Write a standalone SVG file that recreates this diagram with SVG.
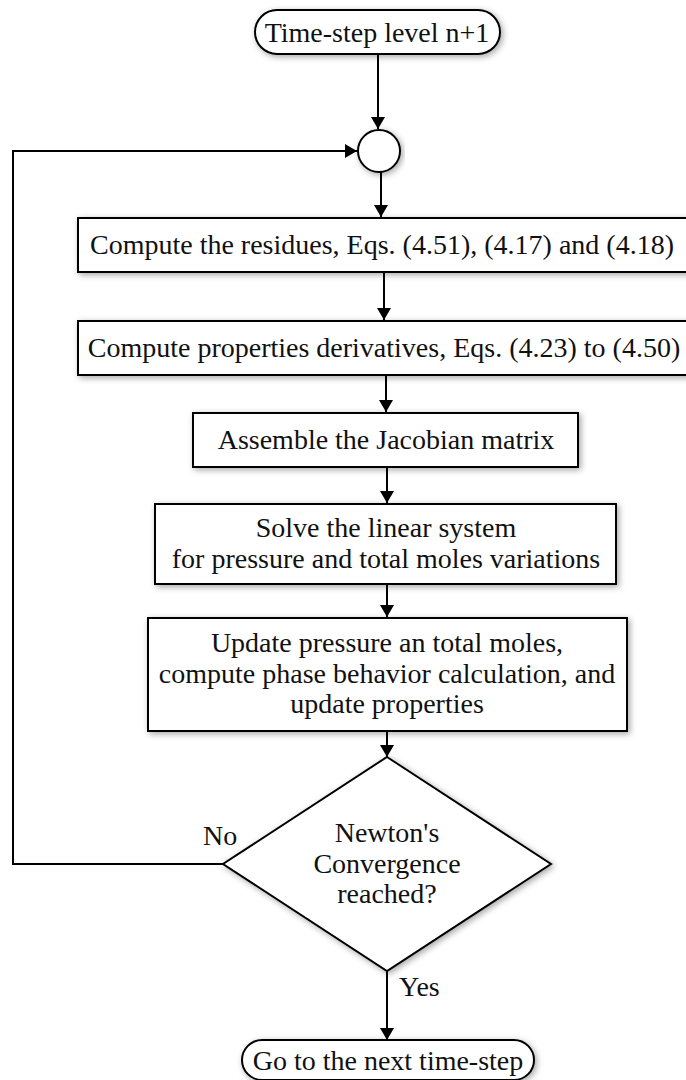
<svg xmlns="http://www.w3.org/2000/svg" width="686" height="1080" viewBox="0 0 686 1080">
<defs>
<filter id="sh" x="-10%" y="-30%" width="120%" height="160%">
<feDropShadow dx="2" dy="2" stdDeviation="3" flood-color="#000" flood-opacity="0.35"/>
</filter>
<marker id="arr" viewBox="0 0 12 14" refX="12" refY="7" markerWidth="12" markerHeight="14" markerUnits="userSpaceOnUse" orient="auto">
<path d="M0,0 L12,7 L0,14 Z" fill="#000"/>
</marker>
</defs>
<style>
.box{fill:#fff;stroke:#000;stroke-width:2;filter:url(#sh)}
.t{font-family:"Liberation Serif","Times New Roman",serif;font-size:28px;fill:#111;text-anchor:middle}
.l{font-family:"Liberation Serif","Times New Roman",serif;font-size:28px;fill:#111}
.c{fill:none;stroke:#000;stroke-width:2;marker-end:url(#arr)}
.p{fill:none;stroke:#000;stroke-width:2}
</style>
<rect width="686" height="1080" fill="#fff"/>
<g id="connectors">
<line class="c" x1="378" y1="54" x2="378" y2="129"/>
<line class="c" x1="381" y1="172" x2="381" y2="217"/>
<line class="c" x1="384" y1="272" x2="384" y2="320"/>
<line class="c" x1="386" y1="375" x2="386" y2="412"/>
<line class="c" x1="387" y1="467" x2="387" y2="503"/>
<line class="c" x1="387" y1="584" x2="387" y2="617"/>
<line class="c" x1="387" y1="731" x2="387" y2="757"/>
<polyline class="c" points="223,864 13,864 13,151 357,151"/>
<line class="c" x1="387" y1="971" x2="387" y2="1040"/>
</g>
<g id="start">
<rect class="box" x="255" y="10" width="245" height="44" rx="22"/>
<text class="t" x="377" y="42">Time-step level n+1</text>
</g>
<g id="junction">
<circle class="box" cx="379" cy="151" r="21"/>
</g>
<g id="residues">
<rect class="box" x="78" y="218" width="612" height="54"/>
<text class="t" x="382" y="254">Compute the residues, Eqs. (4.51), (4.17) and (4.18)</text>
</g>
<g id="derivatives">
<rect class="box" x="78" y="321" width="612" height="54"/>
<text class="t" x="384" y="357">Compute properties derivatives, Eqs. (4.23) to (4.50)</text>
</g>
<g id="jacobian">
<rect class="box" x="193" y="413" width="385" height="54"/>
<text class="t" x="386" y="449">Assemble the Jacobian matrix</text>
</g>
<g id="solve">
<rect class="box" x="155" y="504" width="461" height="80"/>
<text class="t" x="386" y="537">Solve the linear system</text>
<text class="t" x="386" y="568">for pressure and total moles variations</text>
</g>
<g id="update">
<rect class="box" x="148" y="618" width="479" height="113"/>
<text class="t" x="387" y="652">Update pressure an total moles,</text>
<text class="t" x="387" y="683">compute phase behavior calculation, and</text>
<text class="t" x="387" y="713">update properties</text>
</g>
<g id="decision">
<polygon class="box" points="387,757 551,864 387,971 223,864"/>
<text class="t" x="387" y="842">Newton's</text>
<text class="t" x="387" y="873">Convergence</text>
<text class="t" x="387" y="903">reached?</text>
</g>
<g id="labels">
<text class="l" x="203" y="845">No</text>
<text class="l" x="399" y="996">Yes</text>
</g>
<g id="end">
<rect class="box" x="242" y="1040" width="292" height="40" rx="20"/>
<text class="t" x="388" y="1070">Go to the next time-step</text>
</g>
</svg>
